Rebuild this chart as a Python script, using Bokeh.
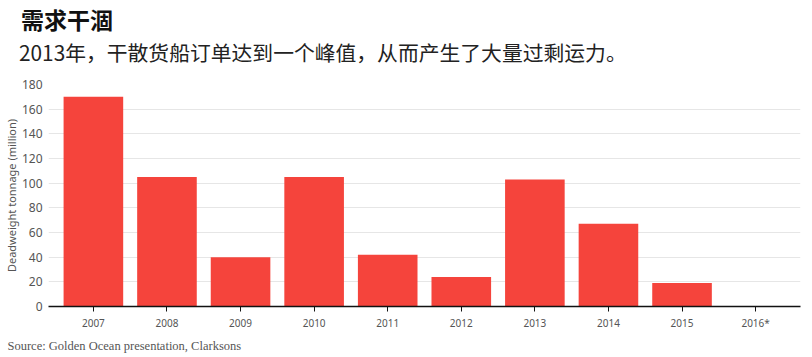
from bokeh.plotting import figure
from bokeh.layouts import column
from bokeh.models import Range1d, FixedTicker, Title, ColumnDataSource, Div
from bokeh.embed import file_html
from bokeh.resources import INLINE

years = ["2007", "2008", "2009", "2010", "2011", "2012", "2013", "2014", "2015", "2016*"]
values = [170, 105, 40, 105, 42, 24, 103, 67, 19, 0]
y_ticks = [0, 20, 40, 60, 80, 100, 120, 140, 160, 180]

title_text = "需求干涸"
subtitle_text = "2013年，干散货船订单达到一个峰值，从而产生了大量过剩运力。"
source_text = "Source: Golden Ocean presentation, Clarksons"
y_label = "Deadweight tonnage (million)"

W = 812
HEAD_H = 76

# ---- header (title + subtitle) ----
head_html = (
    '<div style="position:relative;width:%dpx;height:%dpx;margin:0;padding:0;">'
    '<div style="position:absolute;left:21px;top:8px;font-family:\'Noto Sans CJK SC\';'
    'font-weight:bold;font-size:23px;line-height:1;color:#111111;white-space:nowrap;">%s</div>'
    '<div style="position:absolute;left:19px;top:42px;font-family:\'Noto Sans CJK SC\';'
    'font-size:20.8px;line-height:1;color:#222222;white-space:nowrap;">%s</div>'
    '</div>'
) % (W, HEAD_H, title_text, subtitle_text)
head = Div(text=head_html, width=W, height=HEAD_H, margin=(0, 0, 0, 0))

# ---- main chart ----
src = ColumnDataSource(dict(x=list(range(len(years))), v=values))

p = figure(width=W, height=357 - HEAD_H, output_backend="svg", toolbar_location=None,
           x_range=Range1d(-0.61, len(years) - 1 + 0.61), y_range=Range1d(0, 180),
           min_border_left=0, min_border_right=12, min_border_top=8, min_border_bottom=51)

p.vbar(x="x", top="v", width=0.81, source=src, fill_color="#f5443c", line_color=None)

p.outline_line_color = None
p.xgrid.grid_line_color = None
p.ygrid.grid_line_color = "#e6e6e6"
p.ygrid.ticker = FixedTicker(ticks=y_ticks)

p.yaxis.ticker = FixedTicker(ticks=y_ticks)
p.yaxis.axis_line_color = None
p.yaxis.major_tick_line_color = None
p.yaxis.major_tick_out = 0
p.yaxis.major_tick_in = 0
p.yaxis.minor_tick_line_color = None
p.yaxis.minor_tick_out = 0
p.yaxis.major_label_text_font = "Noto Sans"
p.yaxis.major_label_text_font_size = "12px"
p.yaxis.major_label_text_color = "#555555"
p.yaxis.major_label_standoff = 6
p.yaxis.axis_label = y_label
p.yaxis.axis_label_text_font = "Noto Sans"
p.yaxis.axis_label_text_font_style = "normal"
p.yaxis.axis_label_text_font_size = "11px"
p.yaxis.axis_label_text_color = "#555555"
p.yaxis.axis_label_standoff = 0

p.xaxis.ticker = FixedTicker(ticks=list(range(len(years))))
p.xaxis.major_label_overrides = {i: y for i, y in enumerate(years)}
p.xaxis.axis_line_color = "#111111"
p.xaxis.axis_line_width = 1.5
p.xaxis.major_tick_line_color = "#111111"
p.xaxis.major_tick_in = 0
p.xaxis.major_tick_out = 5
p.xaxis.minor_tick_line_color = None
p.xaxis.minor_tick_out = 0
p.xaxis.major_label_text_font = "Noto Sans"
p.xaxis.major_label_text_font_size = "10px"
p.xaxis.major_label_text_color = "#555555"
p.xaxis.major_label_standoff = 4

p.add_layout(Title(text=source_text, text_font="Liberation Serif", text_font_size="12.5px",
                   text_font_style="normal", text_color="#555555", align="left",
                   offset=-41, standoff=8), "below")

layout = column(head, p, spacing=0)
open("out.html", "w").write(file_html(layout, INLINE))
